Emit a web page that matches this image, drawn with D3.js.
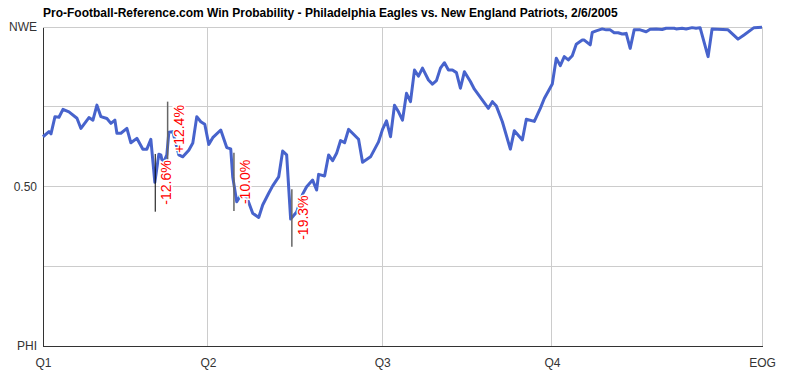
<!DOCTYPE html>
<html>
<head>
<meta charset="utf-8">
<script src="https://cdn.jsdelivr.net/npm/d3@7"></script>
<style>
  body { margin: 0; background: #fff; }
  text { font-family: "Liberation Sans", Arial, sans-serif; }
</style>
</head>
<body>
<div id="chart"></div>
<script>
// Win probability for NWE (percent) by play
const play = [0,1.5,2,3,4,5,6.5,8.5,9.5,11.5,12.5,13.5,14.5,16,17,18,18.5,19.5,21,22,
  23.5,25,26,27,28,29,29.5,30,31,31.5,32.5,34,35,36.5,37.5,38.5,39.5,40.5,41.5,42.5,
  44.5,46,47,47.5,48.5,49.5,51,52.5,54,55,56.5,57.5,59,60,61,62,63.5,65,66,67.5,
  68.5,69,70.5,71.5,72.5,73.5,74.5,75.5,76.5,77.5,79,80,82,84,85,86,87,88,89,90,
  91,92,93,94,95,96.5,97.5,98.5,99.5,100.5,101.5,102.5,103.5,104.5,105.5,107,108,110,111.5,112.5,
  113.5,115,117,118,120,121,123,124.5,125.5,127.5,128.5,129.5,130.5,131.5,132.5,133.5,135,135.5,137,137.5,
  138.5,140,141,142,143,144,145,146,147,148,149.5,151,152,153.5,155,156,158,158.5,160,161,
  162.5,163.5,164.5,166.5,167.5,171.5,174,175.5,178,180];
const wpNWE = [65.6,67.2,66.5,71.9,71.7,74.2,73.4,71.4,68.2,71.6,70.8,75.5,71.9,71.3,69.8,70.8,66.7,66.7,68.2,63.7,
  65.1,61.7,61.7,64.8,51.3,60.1,59.9,57.0,59.9,67.0,67.2,59.9,59.3,61.4,63.6,71.9,70.3,69.5,63.2,65.3,
  67.7,62.2,61.8,53.0,45.2,47.3,46.7,41.6,40.3,44.2,47.9,50.2,53.0,61.1,59.9,39.8,42.0,47.6,49.9,52.0,
  48.9,53.8,53.3,59.9,58.1,60.4,64.4,63.7,67.9,66.7,64.8,57.6,59.3,64.0,67.9,70.6,65.6,75.5,73.4,70.8,
  79.2,76.6,86.5,84.6,87.1,83.4,82.1,83.2,87.1,88.8,86.5,86.5,85.7,80.8,86.0,82.9,80.5,77.1,74.5,76.6,
  75.2,70.3,61.7,67.5,64.6,71.1,70.4,74.5,77.6,82.1,90.2,87.9,90.7,89.7,91.0,94.6,95.9,95.9,94.4,98.3,
  98.8,99.4,99.1,99.1,98.2,98.2,97.8,98.0,93.3,99.1,99.1,98.5,99.3,99.4,99.2,99.6,99.6,99.4,99.6,99.4,
  99.8,99.6,99.8,90.7,99.4,99.1,96.2,97.5,99.8,99.9];

// big swing markers: play, top and bottom of the marker (percent), label
const swingPlay = [28.1, 31.2, 47.8, 62.3];
const swingHi = [60.2, 76.6, 60.6, 49.1];
const swingLo = [42.1, 58.3, 42.3, 31.1];
const swingLabel = ['-12.6%', '+12.4%', '-10.0%', '-19.3%'];

const quarterTicks = [0, 41.3, 84.9, 127.4, 180];
const quarterLabels = ['Q1', 'Q2', 'Q3', 'Q4', 'EOG'];
const wpTicks = [0, 50, 100];
const wpLabels = ['PHI', '0.50', 'NWE'];
const wpGrid = [25, 50, 75, 100];

const width = 787, height = 377;
const margin = {top: 27, right: 25, bottom: 31, left: 43};

const svg = d3.select('#chart')
    .append('svg')
    .attr('width', width)
    .attr('height', height);

let scaleX = d3.scaleLinear().domain([0, 180]).range([margin.left, width - margin.right]);
let scaleY = d3.scaleLinear().domain([0, 100]).range([height - margin.bottom, margin.top]);

// grid
svg.append('g')
    .selectAll('line')
    .data(wpGrid)
    .join('line')
    .attr('x1', scaleX(0)).attr('x2', scaleX(180))
    .attr('y1', d => scaleY(d)).attr('y2', d => scaleY(d))
    .style('stroke', '#ccc').style('stroke-width', '1px')
    .attr('shape-rendering', 'crispEdges');

svg.append('g')
    .selectAll('line')
    .data(quarterTicks.slice(1))
    .join('line')
    .attr('x1', d => scaleX(d)).attr('x2', d => scaleX(d))
    .attr('y1', scaleY(0)).attr('y2', scaleY(100))
    .style('stroke', '#ccc').style('stroke-width', '1px')
    .attr('shape-rendering', 'crispEdges');

// axes
let xAxis = d3.axisBottom(scaleX)
    .tickValues(quarterTicks)
    .tickFormat((d, i) => quarterLabels[i])
    .tickSize(0).tickPadding(12);
let yAxis = d3.axisLeft(scaleY)
    .tickValues(wpTicks)
    .tickFormat((d, i) => wpLabels[i])
    .tickSize(0).tickPadding(6);

let xAxisGroup = svg.append('g')
    .attr('transform', 'translate(0,' + (height - margin.bottom) + ')')
    .call(xAxis);
let yAxisGroup = svg.append('g')
    .attr('transform', 'translate(' + margin.left + ',0)')
    .call(yAxis);

[xAxisGroup, yAxisGroup].forEach(g => {
    g.select('.domain').style('stroke', '#333').attr('shape-rendering', 'crispEdges');
    g.selectAll('text')
        .style('font-family', '"Liberation Sans", Arial, sans-serif')
        .style('font-size', '12px')
        .style('fill', '#333');
});

// win probability line
let wpData = play.map((p, i) => ({x: p, y: wpNWE[i]}));
let line = d3.line()
    .x(d => scaleX(d.x))
    .y(d => scaleY(d.y));

svg.append('path')
    .datum(wpData)
    .attr('d', line)
    .style('fill', 'none')
    .style('stroke', '#4763cc')
    .style('stroke-width', '3px')
    .style('stroke-linejoin', 'round');

// swing markers
svg.append('g')
    .selectAll('line')
    .data(swingPlay)
    .join('line')
    .attr('x1', d => scaleX(d)).attr('x2', d => scaleX(d))
    .attr('y1', (d, i) => scaleY(swingHi[i]))
    .attr('y2', (d, i) => scaleY(swingLo[i]))
    .style('stroke', (d, i) => i === 0 ? '#000' : '#666')
    .style('stroke-width', (d, i) => i === 0 ? '1px' : '1.5px');

svg.append('g')
    .selectAll('text')
    .data(swingPlay)
    .join('text')
    .attr('transform', (d, i) => 'translate(' + (scaleX(d) + 16) + ',' + (scaleY(swingLo[i]) - 7) + ') rotate(-90)')
    .style('font-size', '14px')
    .style('fill', '#f00')
    .style('stroke', '#fff')
    .style('stroke-width', '3px')
    .style('paint-order', 'stroke')
    .text((d, i) => swingLabel[i]);

// title
svg.append('text')
    .attr('x', margin.left)
    .attr('y', 17)
    .style('font-size', '12px')
    .style('font-weight', 'bold')
    .style('fill', '#000')
    .text('Pro-Football-Reference.com Win Probability - Philadelphia Eagles vs. New England Patriots, 2/6/2005');
</script>
</body>
</html>
